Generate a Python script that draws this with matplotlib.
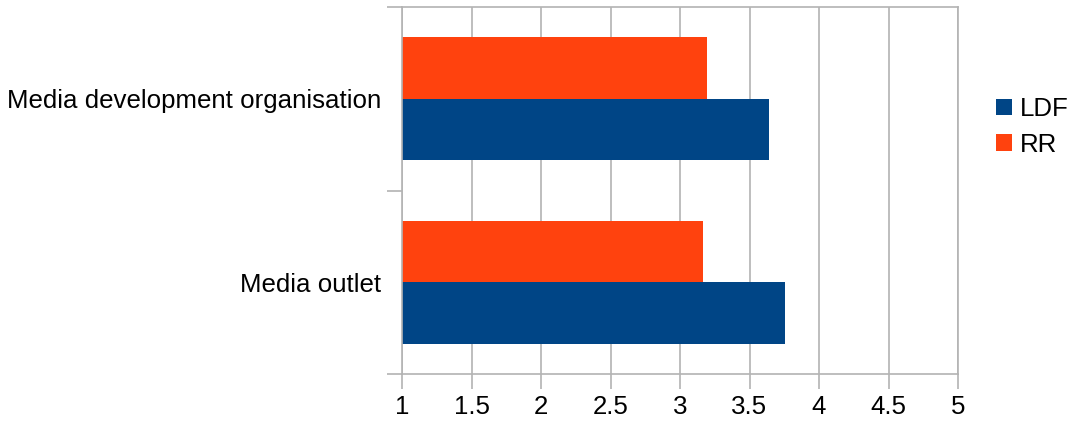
import matplotlib
matplotlib.use("Agg")
import matplotlib.pyplot as plt
import numpy as np

plt.rcParams['font.family'] = ['Liberation Sans', 'DejaVu Sans']

categories = ["Media outlet", "Media development organisation"]
ldf = [3.757, 3.642]
rr = [3.166, 3.195]
series_names = ["LDF", "RR"]
colors = ["#004586", "#ff420e"]
x_ticks = [1, 1.5, 2, 2.5, 3, 3.5, 4, 4.5, 5]
grid_col = "#b3b3b3"
fs = 18.6

fig = plt.figure(figsize=(10.70, 4.23), dpi=100)
ax = fig.add_axes([402 / 1070, 1 - 374 / 423, 556 / 1070, 367 / 423])

y = np.arange(len(categories))
h = 0.334
ax.barh(y - h / 2, [v - 1 for v in ldf], height=h, left=1, color=colors[0], label=series_names[0])
ax.barh(y + h / 2, [v - 1 for v in rr], height=h, left=1, color=colors[1], label=series_names[1])

ax.set_xlim(1, 5)
ax.set_ylim(-0.5, len(categories) - 0.5)
ax.set_xticks(x_ticks)
ax.set_xticklabels([f"{t:g}" for t in x_ticks])
ax.set_yticks(y)
ax.set_yticklabels(categories)
ax.set_yticks(np.arange(-0.5, len(categories), 1.0), minor=True)

ax.grid(axis="x", color=grid_col, linewidth=1.2)
ax.set_axisbelow(True)
for s in ax.spines.values():
    s.set_color(grid_col)
    s.set_linewidth(1.2)

ax.tick_params(axis="x", length=11, width=1.2, color=grid_col, labelsize=fs, pad=4)
ax.tick_params(axis="y", which="major", length=0, labelsize=fs, pad=15)
ax.tick_params(axis="y", which="minor", length=11, width=1.2, color=grid_col)

handles, labels = ax.get_legend_handles_labels()
fig.legend(handles, labels, loc="upper left", bbox_to_anchor=(996 / 1070, 1 - 97 / 423),
           frameon=False, fontsize=fs, handlelength=0.62, handleheight=0.62,
           handletextpad=0.3, labelspacing=0.45, borderpad=0, borderaxespad=0)

fig.savefig("out.png", dpi=100)
